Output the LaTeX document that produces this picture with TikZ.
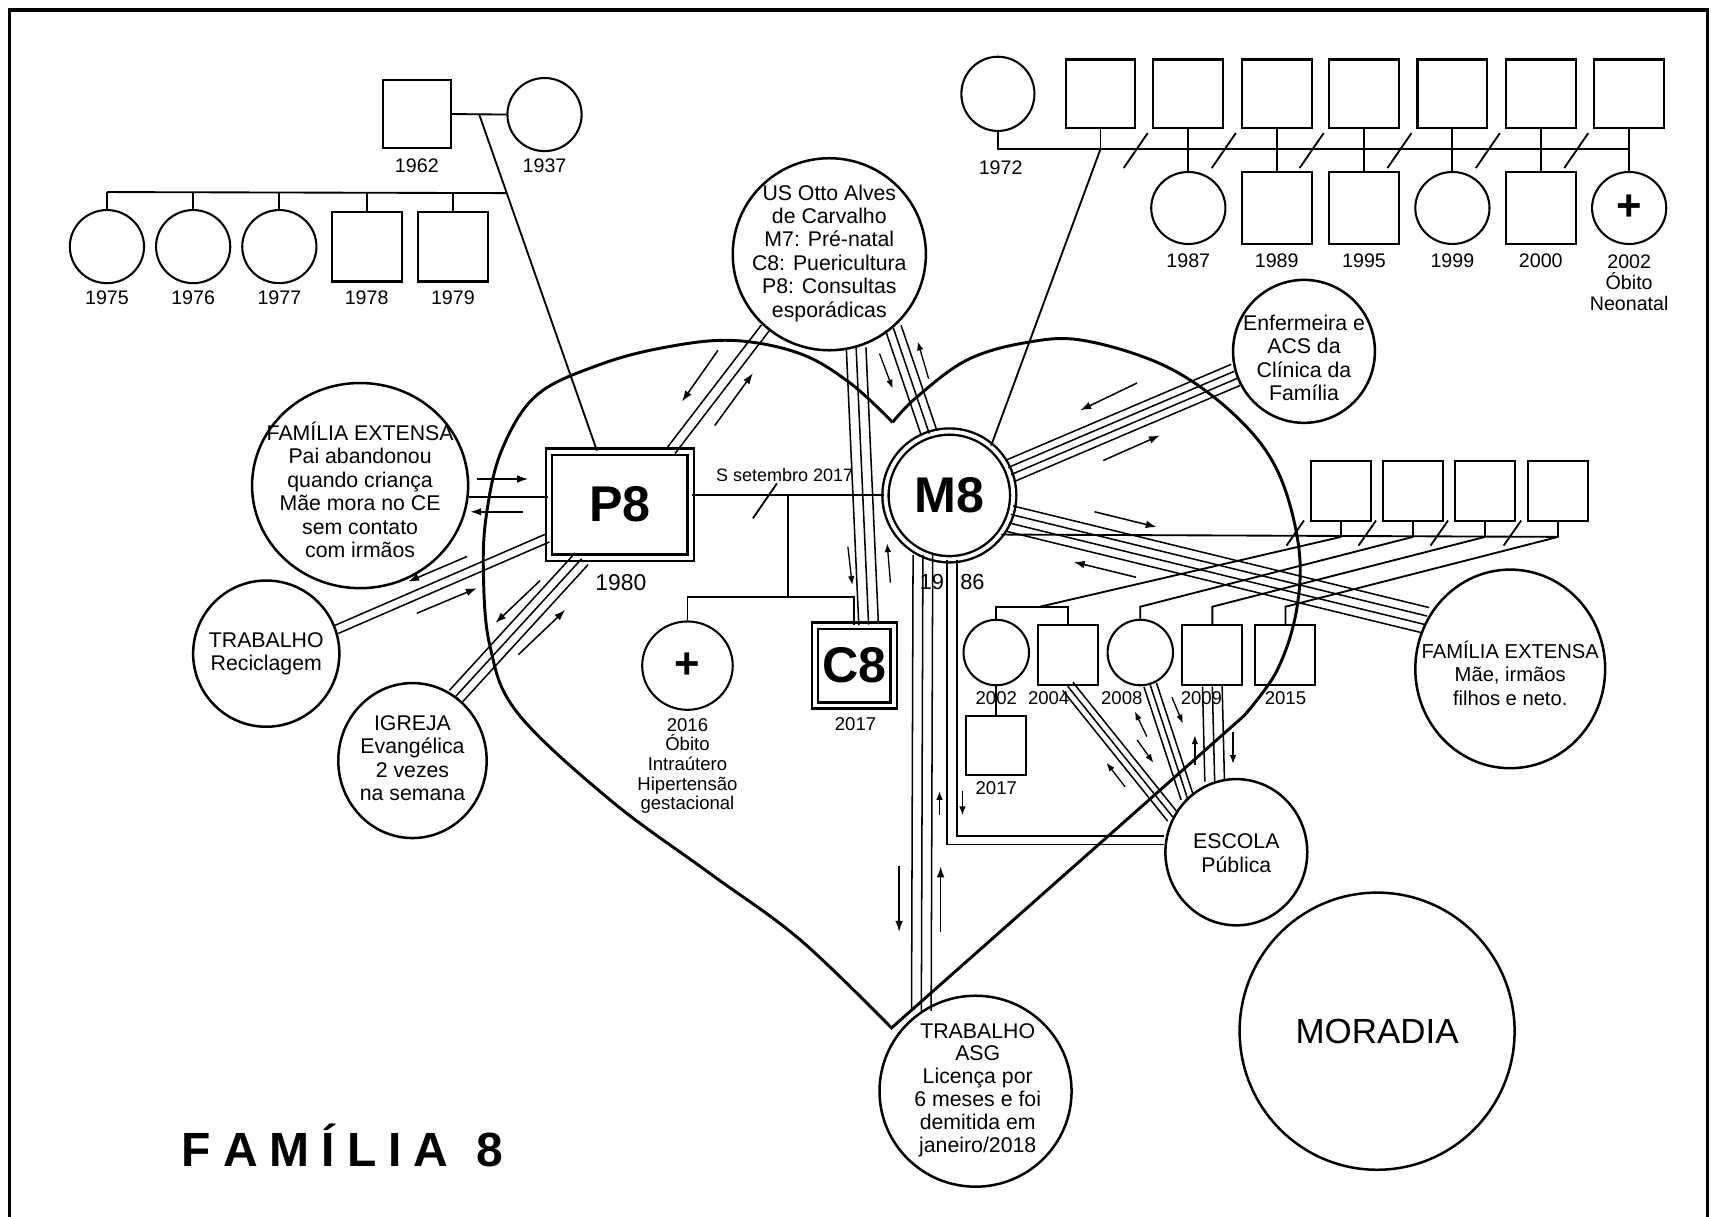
\documentclass[tikz,border=0pt]{standalone}
\usepackage{fontspec}
\setmainfont{Liberation Sans}
\usetikzlibrary{arrows.meta}
\usetikzlibrary{calc}
\usetikzlibrary{shapes.geometric}
\tikzset{>={Latex[length=10pt,width=7pt]}}
\tikzset{
    gsq/.style={draw, line width=1.9pt, minimum width=64pt, minimum height=64pt, inner sep=0pt},
    gci/.style={draw, ellipse, line width=1.9pt, minimum width=68pt, minimum height=67pt, inner sep=0pt},
    ksq/.style={gsq, minimum width=55pt, minimum height=55pt},
    kci/.style={gci, minimum width=60pt, minimum height=60pt},
    eco/.style={draw, ellipse, line width=2.3pt, inner sep=0pt},
    ecotxt/.style={align=center, inner sep=0pt, font=\fontsize{19.5}{21.5}\selectfont},
    yr/.style={inner sep=0pt, font=\fontsize{18}{19.5}\selectfont},
    kyr/.style={inner sep=0pt, font=\fontsize{17}{18}\selectfont},
    idx/.style={draw, double, double distance=3.5pt, line width=2.2pt, inner sep=0pt,
        font=\fontsize{46}{46}\selectfont\bfseries},
    dead/.style={font=\fontsize{40}{40}\selectfont\bfseries},
    gline/.style={line width=1.7pt},
    tie/.style={line width=1.4pt},
    flow/.style={->, line width=1.4pt},
    sflow/.style={-{Latex[length=8pt,width=6pt]}, line width=1.2pt},
    heart/.style={line width=2.7pt},
}
\newcommand{\bundle}[3]{%
    \foreach \sh in {#3}
    {\draw[tie] ($(#1)!\sh!90:(#2)$) -- ($(#2)!\sh!-90:(#1)$);}}

\begin{document}
\begin{tikzpicture}[x=1pt, y=-1pt]
\useasboundingbox (0,0) rectangle (1568,1115);
%frame
\draw[line width=3.2pt] (8.5,1116) -- (8.5,9) -- (1565,9) -- (1565,1116);

%heart
\draw[heart] plot[smooth, tension=.6] coordinates {(818,387) (779,351) (733,324) (672,312)
    (611,318) (550,334) (492,362) (460,412) (446,470) (443,525) (449,592) (474,653)
    (559,733) (650,800) (733,861) (817,942)}
    -- (1140,656) -- plot[smooth, tension=.6] coordinates {(1140,656) (1170,615) (1188,560)
    (1190,500) (1170,430) (1130,379) (1069,336) (993,312) (940,314) (886,330) (840,364) (818,387)};

%index family
\node[idx, minimum width=130pt, minimum height=97pt] (P8) at (568,462.5) {P8};
\node[idx, ellipse, minimum width=117pt, minimum height=117pt] (M8) at (870,454) {M8};
\node[idx, minimum width=72pt, minimum height=73pt] (C8) at (783,610) {C8};
\node[gci, dead, minimum width=83pt, minimum height=81pt] (D16) at (630,610) {+};
\node[inner sep=0pt, font=\fontsize{21}{21}\selectfont] (P8y) at (569,534) {1980};
\node[inner sep=0pt, font=\fontsize{20}{20}\selectfont] (M8y) at (872.5,533) {19\hspace{15pt}86};
\node[kyr] (C8y) at (784,664) {2017};
\node[kyr, align=center, anchor=north] (D16y) at (630,658)
    {2016\\Óbito\\Intraútero\\Hipertensão\\gestacional};
\coordinate (mc) at (722,454);
\coordinate (kb) at (722,547);
\draw[gline] (P8.east |- M8.west) -- (M8.west);
\draw[gline] (690,475) -- (712,443);
\node[inner sep=0pt, font=\fontsize{16.5}{16.5}\selectfont] (sep) at (719,435) {S setembro 2017};
\draw[gline] (mc) -- (kb);
\draw[gline] (D16.north) |- (kb) -| (C8.north);

%paternal family
\node[gsq, minimum width=62pt, minimum height=63pt] (gf) at (382,104.5) {};
\node[gci] (gm) at (499,105) {};
\node[yr] (gfy) at (382,152) {1962};
\node[yr] (gmy) at (499,152) {1937};
\coordinate (gj) at (439,104.5);
\coordinate (p8top) at ([xshift=-21pt]P8.north);
\coordinate (sj) at ($(gj)!0.235!(p8top)$);
\draw[gline] (gf.east) -- (gm.west);
\draw[gline] (gj) -- (p8top);
\draw[gline] (98,176) -- (sj);
\foreach [count=\i] \x/\yy in {98/1975, 177/1976, 256/1977}
{
    \node[gci] (ps\i) at (\x,226) {};
    \node[yr] (psy\i) at (\x,273) {\yy};
    \draw[gline] (ps\i.north) -- (\x,176);
}
\foreach [count=\i] \x/\yy in {336/1978, 415/1979}
{
    \node[gsq] (pb\i) at (\x,226) {};
    \node[yr] (pby\i) at (\x,273) {\yy};
    \draw[gline] (pb\i.north) -- (\x,176);
}

%maternal family
\node[gci, minimum width=67pt, minimum height=68pt] (mm) at (914.5,86) {};
\node[yr] (mmy) at (917,154) {1972};
\coordinate (mj) at (1008.5,136.6);
\foreach [count=\i] \x in {1008.5,1089,1170,1250,1331,1412,1493}
{
    \node[gsq, minimum height=63pt] (f\i) at (\x,86) {};
    \draw[gline] (f\i.south) -- (\x,136.6);
}
\draw[gline] (mm.south) -- (914.5,136.6) -- (1493,136.6);
\foreach \x in {1040.75,1121.5,1202,1282.5,1363.5,1444.5}
    {\draw[gline] (\x-11,154) -- (\x+11,122);}
\node[gci, minimum height=66pt] (b87) at (1089,190.6) {};
\node[gsq, minimum height=66pt] (b89) at (1170,190.6) {};
\node[gsq, minimum height=66pt] (b95) at (1250,190.6) {};
\node[gci, minimum height=66pt] (b99) at (1331,190.6) {};
\node[gsq, minimum height=66pt] (b00) at (1412,190.6) {};
\node[gci, dead, minimum height=66pt] (b02) at (1493,190.6) {+};
\foreach \n/\x/\yy in {b87/1089/1987, b89/1170/1989, b95/1250/1995, b99/1331/1999, b00/1412/2000}
{
    \draw[gline] (\n.north) -- (\x,136.6);
    \node[yr] (\n y) at (\x,239) {\yy};
}
\draw[gline] (b02.north) -- (1493,136.6);
\node[yr, align=center, anchor=north] (b02y) at (1493,233) {2002\\Óbito\\Neonatal};
\draw[gline] (mj) -- (M8.50);

%partners and children of M8
\foreach [count=\i] \x in {1229,1295,1361,1428}
{
    \node[ksq] (h\i) at (\x,450) {};
    \coordinate (hj\i) at (\x,492);
    \draw[gline] (h\i.south) -- (hj\i);
    \draw[gline] (\x-50,500) -- (\x-34,477);
}
\draw[gline] (M8.-37) -- (hj4);
\node[kci] (k02) at (913,598) {};
\node[ksq] (k04) at (978.5,600.5) {};
\node[kci] (k08) at (1045,598) {};
\node[ksq] (k09) at (1111,600.5) {};
\node[ksq] (k15) at (1178,600.5) {};
\node[ksq, minimum height=54pt] (g17) at (913,683) {};
\coordinate (kb1) at (953,556);
\coordinate (kb2) at (1045,556);
\coordinate (kb3) at (1111,556);
\coordinate (kb4) at (1178,556);
\draw[gline] (k02.north) |- (kb1) -| (k04.north);
\draw[gline] (hj1) -- (kb1);
\draw[gline] (hj2) -- (kb2) -- (k08.north);
\draw[gline] (hj3) -- (kb3) -- (k09.north);
\draw[gline] (hj4) -- (kb4) -- (k15.north);
\draw[gline] (k02.south) -- (g17.north);
\foreach \n/\x/\yy in {k02/913/2002, k04/961/2004, k08/1028/2008, k09/1101/2009, k15/1178/2015}
    {\node[kyr] (\n y) at (\x,640) {\yy};}
\node[kyr] (g17y) at (913,722) {2017};

%ecomap
\node[eco, minimum width=198pt, minimum height=188pt] (feL) at (330,445) {};
\node[ecotxt] (feLt) at (330,449) {FAMÍLIA EXTENSA\\Pai abandonou\\quando criança\\Mãe mora no CE\\sem contato\\com irmãos};
\node[eco, minimum width=134pt, minimum height=134pt] (tr) at (244,599) {};
\node[ecotxt] (trt) at (244,599) {TRABALHO\\Reciclagem};
\node[eco, minimum width=136pt, minimum height=142pt] (ig) at (378,697) {};
\node[ecotxt] (igt) at (378,695) {IGREJA\\Evangélica\\2 vezes\\na semana};
\node[eco, minimum width=177pt, minimum height=176pt] (us) at (760,233) {};
\node[ecotxt] (ust) at (760,232) {US Otto Alves\\de Carvalho\\M7: Pré-natal\\C8: Puericultura\\P8: Consultas\\esporádicas};
\node[eco, minimum width=130pt, minimum height=131pt] (enf) at (1195,322) {};
\node[ecotxt] (enft) at (1195,328) {Enfermeira e\\ACS da\\Clínica da\\Família};
\node[eco, minimum width=174pt, minimum height=182pt] (feR) at (1384,613) {};
\node[ecotxt, font=\fontsize{18.5}{21.5}\selectfont] (feRt) at (1384,617) {FAMÍLIA EXTENSA\\Mãe, irmãos\\filhos e neto.};
\node[eco, minimum width=130pt, minimum height=134pt] (esc) at (1133,781) {};
\node[ecotxt] (esct) at (1133,782) {ESCOLA\\Pública};
\node[eco, minimum width=252pt, minimum height=254pt] (mor) at (1262,945) {};
\node[ecotxt, font=\fontsize{32}{32}\selectfont] (mort) at (1262,945) {MORADIA};
\node[eco, minimum width=176pt, minimum height=175pt] (asg) at (894,1000) {};
\node[ecotxt, font=\fontsize{19.5}{21}\selectfont] (asgt) at (896,999) {TRABALHO\\ASG\\Licença por\\6 meses e foi\\demitida em\\janeiro/2018};

%links
\coordinate (p8w) at ([yshift=-30.5pt]P8.west);
\coordinate (p8s) at ([xshift=-35pt]P8.south);
\coordinate (p8n) at ([xshift=47pt]P8.north);
\coordinate (c8n) at ([xshift=13pt]C8.north);
\draw[tie] (feL.-6) -- (feL.-6 -| P8.west);
\bundle{tr.19}{p8w}{-4pt,4pt}
\bundle{ig.56}{p8s}{-8pt,0pt,8pt}
\bundle{us.229}{p8n}{-4.5pt,4.5pt}
\bundle{us.-74}{c8n}{-9pt,0pt,9pt}
\bundle{us.-49}{M8.108}{-7.5pt,0pt,7.5pt}
\bundle{M8.22}{enf.199}{-10.5pt,-3.5pt,3.5pt,10.5pt}
\bundle{M8.-21}{feR.150}{-12pt,-4pt,4pt,12pt}
\bundle{M8.-114}{asg.124}{-9pt,0pt,9pt}
\draw[tie] ([xshift=-2pt]M8.south) |- ([yshift=7pt]esc.west);
\draw[tie] ([xshift=7pt]M8.south) |- ([yshift=15pt]esc.west);
\bundle{k04.south}{esc.151}{-6pt,0pt,6pt}
\bundle{k08.-73}{esc.132}{-6pt,0pt,6pt}
\bundle{k09.south}{esc.107}{-9pt,0pt,9pt}

%flow arrows
\draw[flow] (437,439) -- (484,439);
\draw[flow] (479,469) -- (431,469);
\draw[flow] (428,510) -- (374,533);
\draw[flow] (382,562) -- (437,539);
\draw[flow] (495,532) -- (454,571);
\draw[flow] (475,600) -- (518,559);
\draw[flow] (658,321) -- (625,368);
\draw[flow] (655,390) -- (690,342);
\draw[sflow] (777,501) -- (781,536);
\draw[sflow] (816,534) -- (813,498);
\draw[sflow] (806,324) -- (818,356);
\draw[sflow] (851,347) -- (841,313);
\draw[flow] (1042,351) -- (990,376);
\draw[flow] (1011,422) -- (1063,399);
\draw[flow] (1003,469) -- (1060,483);
\draw[flow] (1041,529) -- (984,515);
\draw[flow] (824,794) -- (824,854);
\draw[flow] (862,854) -- (862,794);
\draw[sflow] (861,747) -- (861,725);
\draw[sflow] (882,725) -- (882,747);
\draw[sflow] (1031,721) -- (1014,699);
\draw[sflow] (1042,678) -- (1057,699);
\draw[sflow] (1051,675) -- (1040,652);
\draw[sflow] (1074,639) -- (1084,663);
\draw[sflow] (1095,701) -- (1095,674);
\draw[sflow] (1130,671) -- (1130,700);

%title
\node[inner sep=0pt, font=\fontsize{44}{44}\selectfont\bfseries] (fam) at (314,1050)
    {F\kern11pt A\kern11pt M\kern11pt Í\kern11pt L\kern11pt I\kern11pt A\kern26pt 8};
\end{tikzpicture}
\end{document}
